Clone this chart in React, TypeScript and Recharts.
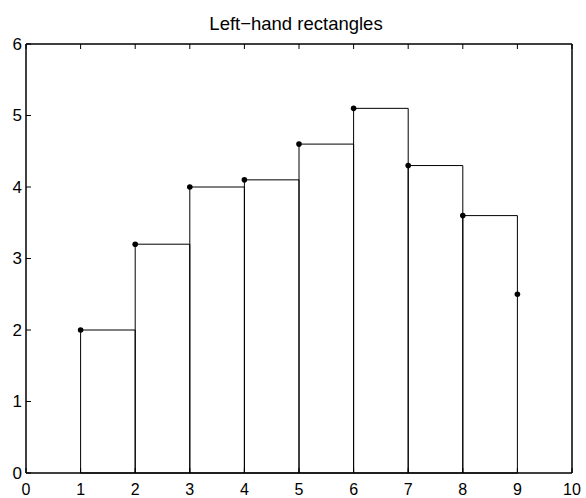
import {
	ComposedChart,
	Scatter,
	XAxis,
	YAxis,
	ReferenceArea,
} from "recharts";

// sample points (left end of each interval)
const xs = [1, 2, 3, 4, 5, 6, 7, 8, 9];
const ys = [2, 3.2, 4, 4.1, 4.6, 5.1, 4.3, 3.6, 2.5];

const xTicks = [0, 1, 2, 3, 4, 5, 6, 7, 8, 9, 10];
const yTicks = [0, 1, 2, 3, 4, 5, 6];

const points = xs.map((x, i) => ({ x, y: ys[i] }));
// rectangles use the left point's height, one per interval
const rects = xs.slice(0, -1).map((x, i) => ({ x1: x, x2: xs[i + 1], h: ys[i] }));

const FONT = "Liberation Sans, Arial, sans-serif";
const TICK_LEN = 5;
const GAP = 6;

const BottomTick = (props: any) => {
	const { x, y, payload } = props;
	const axisY = y - GAP;
	return (
		<g>
			<line x1={x} x2={x} y1={axisY} y2={axisY - TICK_LEN} stroke="#000" />
			<text x={x} y={y} dy={15.5} textAnchor="middle" fontSize={16} fontFamily={FONT} fill="#000">
				{payload.value}
			</text>
		</g>
	);
};

const LeftTick = (props: any) => {
	const { x, y, payload } = props;
	const axisX = x + GAP;
	return (
		<g>
			<line x1={axisX} x2={axisX + TICK_LEN} y1={y} y2={y} stroke="#000" />
			<text x={x + 2} y={y} dy={5.5} textAnchor="end" fontSize={17} fontFamily={FONT} fill="#000">
				{payload.value}
			</text>
		</g>
	);
};

const TopTick = (props: any) => {
	const { x, y } = props;
	return <line x1={x} x2={x} y1={y} y2={y + TICK_LEN} stroke="#000" />;
};

const RightTick = (props: any) => {
	const { x, y } = props;
	return <line x1={x} x2={x - TICK_LEN} y1={y} y2={y} stroke="#000" />;
};

const Dot = (props: any) => {
	const { cx, cy } = props;
	return <circle cx={cx} cy={cy} r={2.8} fill="#000" />;
};

export default function App() {
	return (
		<div style={{ position: "absolute", left: 0, top: 0, width: 586, height: 498, background: "#fff" }}>
			<div
				style={{
					position: "absolute",
					left: 23,
					width: 546,
					top: 15,
					textAlign: "center",
					fontFamily: FONT,
					fontSize: 18.5,
					lineHeight: "18.5px",
					color: "#000",
				}}
			>
				Left−hand rectangles
			</div>
			<ComposedChart
				width={586}
				height={498}
				margin={{ top: 43, right: 13, left: 0, bottom: 0 }}
				data={points}
			>
				<XAxis
					xAxisId="b"
					type="number"
					dataKey="x"
					domain={[0, 10]}
					ticks={xTicks}
					interval={0}
					height={25}
					tickSize={0}
					tickMargin={GAP}
					tick={<BottomTick />}
					axisLine={{ stroke: "#000" }}
					tickLine={false}
				/>
				<XAxis
					xAxisId="t"
					orientation="top"
					type="number"
					dataKey="x"
					domain={[0, 10]}
					ticks={xTicks}
					interval={0}
					height={1}
					tickSize={0}
					tickMargin={0}
					tick={<TopTick />}
					axisLine={{ stroke: "#000" }}
					tickLine={false}
				/>
				<YAxis
					yAxisId="l"
					type="number"
					domain={[0, 6]}
					ticks={yTicks}
					interval={0}
					width={26}
					tickSize={0}
					tickMargin={GAP}
					tick={<LeftTick />}
					axisLine={{ stroke: "#000" }}
					tickLine={false}
				/>
				<YAxis
					yAxisId="r"
					orientation="right"
					type="number"
					domain={[0, 6]}
					ticks={yTicks}
					interval={0}
					width={1}
					tickSize={0}
					tickMargin={0}
					tick={<RightTick />}
					axisLine={{ stroke: "#000" }}
					tickLine={false}
				/>
				{/* axes box */}
				<ReferenceArea
					xAxisId="b"
					yAxisId="l"
					x1={0}
					x2={10}
					y1={0}
					y2={6}
					fill="none"
					fillOpacity={0}
					stroke="#000"
					ifOverflow="visible"
				/>
				{rects.map((r, i) => (
					<ReferenceArea
						key={i}
						xAxisId="b"
						yAxisId="l"
						x1={r.x1}
						x2={r.x2}
						y1={0}
						y2={r.h}
						fill="none"
						fillOpacity={0}
						stroke="#000"
						strokeWidth={1}
						ifOverflow="visible"
					/>
				))}
				<Scatter
					xAxisId="b"
					yAxisId="l"
					data={points}
					dataKey="y"
					shape={<Dot />}
					isAnimationActive={false}
				/>
			</ComposedChart>
		</div>
	);
}
